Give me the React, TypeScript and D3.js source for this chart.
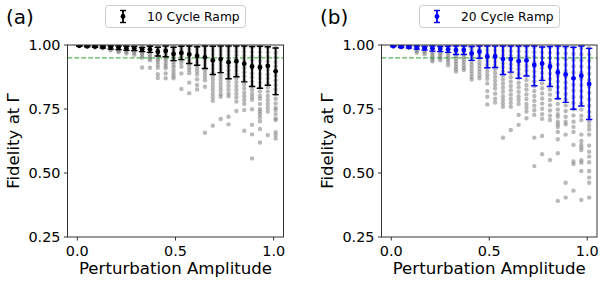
import * as d3 from "d3";
import { useEffect, useRef } from "react";

// perturbation amplitude of each column
const amplitudes = [0.01, 0.05, 0.09, 0.13, 0.17, 0.21, 0.25, 0.29, 0.33, 0.37, 0.41, 0.45, 0.49,
    0.53, 0.57, 0.61, 0.65, 0.69, 0.73, 0.77, 0.81, 0.85, 0.89, 0.93, 0.97, 1.01];

// (a) 10 cycle ramp
const meanA = [0.997, 0.995, 0.994, 0.992, 0.991, 0.99, 0.987, 0.986, 0.982, 0.983, 0.974, 0.977, 0.965,
    0.969, 0.963, 0.957, 0.952, 0.94, 0.945, 0.933, 0.937, 0.927, 0.916, 0.913, 0.918, 0.897];
const stdA = [0.001, 0.002, 0.003, 0.004, 0.007, 0.008, 0.008, 0.008, 0.008, 0.012, 0.017, 0.023, 0.026,
    0.026, 0.035, 0.036, 0.044, 0.055, 0.053, 0.065, 0.061, 0.071, 0.078, 0.082, 0.075, 0.091];
const samplesA = [
    [1.0, 0.999, 0.998, 0.997],
    [1.0, 0.998, 0.996, 0.994],
    [0.999, 0.996, 0.993, 0.99],
    [0.999, 0.995, 0.991, 0.987],
    [0.998, 0.993, 0.988, 0.983, 0.979],
    [0.998, 0.992, 0.986, 0.981, 0.976, 0.972],
    [0.997, 0.991, 0.985, 0.979, 0.973, 0.967],
    [0.997, 0.99, 0.983, 0.976, 0.969, 0.962],
    [0.996, 0.989, 0.981, 0.973, 0.966, 0.958, 0.95, 0.912],
    [0.996, 0.988, 0.98, 0.972, 0.963, 0.954, 0.946, 0.94, 0.911],
    [0.995, 0.986, 0.977, 0.968, 0.959, 0.95, 0.942, 0.934, 0.922, 0.911, 0.886, 0.871],
    [0.995, 0.985, 0.976, 0.966, 0.957, 0.947, 0.938, 0.928, 0.918, 0.909, 0.889, 0.87],
    [0.994, 0.984, 0.974, 0.963, 0.953, 0.943, 0.933, 0.922, 0.912, 0.9, 0.889, 0.879, 0.87],
    [0.994, 0.983, 0.972, 0.962, 0.951, 0.94, 0.93, 0.915, 0.889, 0.828],
    [0.993, 0.982, 0.97, 0.959, 0.947, 0.936, 0.925, 0.913, 0.902, 0.89, 0.853, 0.812],
    [0.993, 0.981, 0.969, 0.957, 0.945, 0.933, 0.921, 0.909, 0.897, 0.885, 0.866, 0.844, 0.826],
    [0.992, 0.979, 0.966, 0.953, 0.94, 0.927, 0.914, 0.901, 0.888, 0.875, 0.862, 0.837, 0.657],
    [0.992, 0.978, 0.964, 0.95, 0.936, 0.922, 0.908, 0.894, 0.88, 0.866, 0.852, 0.838, 0.824, 0.81, 0.796, 0.782, 0.685],
    [0.991, 0.977, 0.963, 0.948, 0.934, 0.92, 0.906, 0.892, 0.878, 0.864, 0.85, 0.836, 0.822, 0.808, 0.798, 0.711],
    [0.991, 0.976, 0.961, 0.946, 0.931, 0.916, 0.901, 0.886, 0.871, 0.856, 0.841, 0.826, 0.811, 0.8, 0.72, 0.69],
    [0.99, 0.975, 0.96, 0.945, 0.93, 0.915, 0.9, 0.885, 0.87, 0.855, 0.84, 0.825, 0.81, 0.795, 0.779, 0.742],
    [0.99, 0.974, 0.958, 0.942, 0.926, 0.91, 0.894, 0.878, 0.862, 0.846, 0.83, 0.814, 0.8, 0.785, 0.77, 0.746, 0.665],
    [0.989, 0.973, 0.956, 0.94, 0.923, 0.907, 0.89, 0.874, 0.857, 0.841, 0.825, 0.81, 0.797, 0.786, 0.749, 0.688, 0.651, 0.557],
    [0.989, 0.972, 0.955, 0.938, 0.921, 0.904, 0.887, 0.87, 0.853, 0.836, 0.819, 0.802, 0.79, 0.77, 0.75, 0.74, 0.73, 0.718, 0.702, 0.672, 0.619],
    [0.988, 0.971, 0.954, 0.937, 0.92, 0.903, 0.886, 0.869, 0.852, 0.835, 0.818, 0.801, 0.785, 0.77, 0.755, 0.74, 0.648],
    [0.988, 0.97, 0.952, 0.934, 0.916, 0.898, 0.88, 0.862, 0.844, 0.826, 0.808, 0.79, 0.772, 0.755, 0.746, 0.73, 0.713, 0.707, 0.659, 0.648, 0.635],
];

// (b) 20 cycle ramp
const meanB = [0.996, 0.993, 0.992, 0.99, 0.987, 0.987, 0.984, 0.983, 0.98, 0.98, 0.967, 0.974, 0.955,
    0.955, 0.945, 0.945, 0.937, 0.94, 0.922, 0.927, 0.916, 0.893, 0.885, 0.87, 0.88, 0.848];
const stdB = [0.002, 0.003, 0.004, 0.006, 0.007, 0.011, 0.01, 0.012, 0.017, 0.017, 0.027, 0.026, 0.044,
    0.043, 0.06, 0.051, 0.067, 0.061, 0.081, 0.065, 0.078, 0.103, 0.109, 0.121, 0.118, 0.139];
const samplesB = [
    [1.0, 0.998, 0.996, 0.994],
    [1.0, 0.997, 0.994, 0.991],
    [0.999, 0.995, 0.991, 0.988],
    [0.999, 0.994, 0.988, 0.982, 0.976, 0.97],
    [0.998, 0.992, 0.985, 0.978, 0.971, 0.964],
    [0.998, 0.99, 0.982, 0.974, 0.966, 0.958, 0.95, 0.942, 0.936],
    [0.997, 0.989, 0.98, 0.972, 0.964, 0.956, 0.948, 0.94],
    [0.997, 0.988, 0.978, 0.969, 0.96, 0.95, 0.941, 0.932, 0.921],
    [0.996, 0.986, 0.976, 0.966, 0.956, 0.946, 0.936, 0.926, 0.915, 0.905, 0.896],
    [0.996, 0.985, 0.974, 0.963, 0.952, 0.942, 0.932, 0.921, 0.91, 0.902],
    [0.995, 0.983, 0.971, 0.959, 0.947, 0.935, 0.923, 0.911, 0.899, 0.887, 0.875, 0.865],
    [0.995, 0.982, 0.97, 0.957, 0.945, 0.932, 0.92, 0.907, 0.895, 0.882, 0.87],
    [0.994, 0.98, 0.966, 0.952, 0.938, 0.924, 0.91, 0.896, 0.882, 0.868, 0.85, 0.82, 0.798, 0.768],
    [0.994, 0.979, 0.964, 0.949, 0.934, 0.919, 0.905, 0.89, 0.875, 0.86, 0.845, 0.83, 0.81, 0.79, 0.775],
    [0.993, 0.977, 0.961, 0.945, 0.929, 0.913, 0.897, 0.881, 0.865, 0.849, 0.833, 0.817, 0.8, 0.785, 0.772, 0.759, 0.638],
    [0.993, 0.976, 0.959, 0.942, 0.925, 0.908, 0.891, 0.874, 0.857, 0.84, 0.823, 0.806, 0.789, 0.774, 0.759, 0.668],
    [0.992, 0.975, 0.957, 0.94, 0.922, 0.905, 0.887, 0.87, 0.852, 0.835, 0.817, 0.8, 0.785, 0.77, 0.727, 0.688],
    [0.992, 0.974, 0.955, 0.937, 0.918, 0.9, 0.881, 0.863, 0.844, 0.826, 0.807, 0.789, 0.77, 0.755, 0.74, 0.714],
    [0.991, 0.972, 0.953, 0.934, 0.915, 0.896, 0.877, 0.858, 0.839, 0.82, 0.801, 0.782, 0.763, 0.745, 0.727, 0.638, 0.527],
    [0.991, 0.971, 0.951, 0.931, 0.911, 0.891, 0.871, 0.851, 0.831, 0.811, 0.791, 0.771, 0.751, 0.73, 0.712, 0.645, 0.573],
    [0.99, 0.97, 0.949, 0.929, 0.908, 0.888, 0.867, 0.847, 0.826, 0.806, 0.785, 0.765, 0.744, 0.724, 0.707, 0.551],
    [0.99, 0.968, 0.946, 0.924, 0.902, 0.88, 0.858, 0.836, 0.814, 0.792, 0.77, 0.748, 0.73, 0.72, 0.7, 0.69, 0.68, 0.66, 0.632, 0.577, 0.391],
    [0.989, 0.967, 0.944, 0.922, 0.899, 0.877, 0.854, 0.832, 0.809, 0.787, 0.764, 0.742, 0.72, 0.7, 0.69, 0.65, 0.462, 0.404],
    [0.989, 0.965, 0.941, 0.917, 0.893, 0.869, 0.845, 0.821, 0.797, 0.773, 0.749, 0.725, 0.7, 0.68, 0.66, 0.61, 0.545, 0.535, 0.431],
    [0.988, 0.964, 0.94, 0.916, 0.892, 0.868, 0.844, 0.82, 0.796, 0.772, 0.748, 0.724, 0.707, 0.65, 0.625, 0.61, 0.6, 0.59, 0.55, 0.54, 0.508, 0.395],
    [0.988, 0.963, 0.938, 0.913, 0.888, 0.863, 0.838, 0.813, 0.788, 0.763, 0.738, 0.72, 0.7, 0.685, 0.67, 0.65, 0.607, 0.583, 0.564, 0.542, 0.508, 0.482, 0.462, 0.404],
];

const xTicks = [0.0, 0.5, 1.0];
const yTicks = [0.25, 0.5, 0.75, 1.0];
const threshold = 0.95;

const panels = [
    { tag: "(a)", label: "10 Cycle Ramp", color: "#000000", mean: meanA, std: stdA, samples: samplesA, left: 67.5, right: 283.5, legendX: 105 },
    { tag: "(b)", label: "20 Cycle Ramp", color: "#0000ff", mean: meanB, std: stdB, samples: samplesB, left: 381.5, right: 597, legendX: 419 },
];

export default function App() {
    const svgRef = useRef<SVGSVGElement>(null);
    const width = 604;
    const height = 282;

    useEffect(() => {
        const svg = d3.select(svgRef.current);
        svg.selectAll("*").remove();

        const top = 45;
        const bottom = 237;
        const font = "DejaVu Sans, sans-serif";
        const y = d3.scaleLinear().domain([0.25, 1.0]).range([bottom, top]);

        panels.forEach((p, k) => {
            const x = d3.scaleLinear().domain([-0.05, 1.05]).range([p.left, p.right]);
            const g = svg.append("g");

            const clipId = "plotclip" + k;
            g.append("clipPath").attr("id", clipId)
                .append("rect")
                .attr("x", p.left).attr("y", top)
                .attr("width", p.right - p.left).attr("height", bottom - top);

            const plot = g.append("g").attr("clip-path", `url(#${clipId})`);

            // individual runs
            const pts = p.samples.flatMap((col, i) => col.map(v => [amplitudes[i], v]));
            plot.append("g")
                .selectAll("circle")
                .data(pts)
                .join("circle")
                .attr("cx", d => x(d[0]))
                .attr("cy", d => y(d[1]))
                .attr("r", 2.2)
                .attr("fill", "#808080")
                .attr("fill-opacity", 0.55);

            // 0.95 threshold
            plot.append("line")
                .attr("x1", p.left).attr("x2", p.right)
                .attr("y1", y(threshold)).attr("y2", y(threshold))
                .attr("stroke", "#2ca02c")
                .attr("stroke-opacity", 0.8)
                .attr("stroke-width", 1.3)
                .attr("stroke-dasharray", "4.8,2.1");

            // mean +- std
            const bars = plot.append("g")
                .selectAll("g")
                .data(p.mean.map((m, i) => ({ a: amplitudes[i], m, lo: m - p.std[i], hi: Math.min(m + p.std[i], 0.996) })))
                .join("g");
            bars.append("line")
                .attr("x1", d => x(d.a)).attr("x2", d => x(d.a))
                .attr("y1", d => y(d.lo)).attr("y2", d => y(d.hi))
                .attr("stroke", p.color).attr("stroke-width", 1.8);
            bars.append("line")
                .attr("x1", d => x(d.a) - 3.2).attr("x2", d => x(d.a) + 3.2)
                .attr("y1", d => y(d.lo)).attr("y2", d => y(d.lo))
                .attr("stroke", p.color).attr("stroke-width", 1.4);
            bars.append("line")
                .attr("x1", d => x(d.a) - 3.2).attr("x2", d => x(d.a) + 3.2)
                .attr("y1", d => y(d.hi)).attr("y2", d => y(d.hi))
                .attr("stroke", p.color).attr("stroke-width", 1.4);
            bars.append("circle")
                .attr("cx", d => x(d.a)).attr("cy", d => y(d.m))
                .attr("r", 2.4)
                .attr("fill", p.color);

            // frame
            g.append("rect")
                .attr("x", p.left).attr("y", top)
                .attr("width", p.right - p.left).attr("height", bottom - top)
                .attr("fill", "none")
                .attr("stroke", "#333")
                .attr("stroke-width", 1);

            // y axis
            const yAxis = g.append("g").selectAll("g").data(yTicks).join("g");
            yAxis.append("line")
                .attr("x1", p.left - 3.5).attr("x2", p.left)
                .attr("y1", d => y(d)).attr("y2", d => y(d))
                .attr("stroke", "#333");
            yAxis.append("text")
                .attr("x", p.left - 7)
                .attr("y", d => y(d))
                .attr("dy", "0.36em")
                .attr("text-anchor", "end")
                .attr("font-family", font)
                .attr("font-size", 14.4)
                .attr("fill", "#000")
                .text(d => d3.format(".2f")(d));

            // x axis
            const xAxis = g.append("g").selectAll("g").data(xTicks).join("g");
            xAxis.append("line")
                .attr("x1", d => x(d)).attr("x2", d => x(d))
                .attr("y1", bottom).attr("y2", bottom + 3.5)
                .attr("stroke", "#333");
            xAxis.append("text")
                .attr("x", d => x(d))
                .attr("y", 255.5)
                .attr("text-anchor", "middle")
                .attr("font-family", font)
                .attr("font-size", 14.4)
                .attr("fill", "#000")
                .text(d => d3.format(".1f")(d));

            g.append("text")
                .attr("x", (p.left + p.right) / 2)
                .attr("y", 274)
                .attr("text-anchor", "middle")
                .attr("font-family", font)
                .attr("font-size", 16.6)
                .text("Perturbation Amplitude");

            g.append("text")
                .attr("transform", `translate(${p.left - 48.5},${(top + bottom) / 2}) rotate(-90)`)
                .attr("text-anchor", "middle")
                .attr("font-family", font)
                .attr("font-size", 16.6)
                .text("Fidelity at Γ");

            // panel tag
            g.append("text")
                .attr("x", p.left - 61.5)
                .attr("y", 24)
                .attr("font-family", font)
                .attr("font-size", 20)
                .text(p.tag);

            // legend
            const lg = g.append("g").attr("transform", `translate(${p.legendX},5)`);
            lg.append("rect")
                .attr("x", 0.5).attr("y", 0.5)
                .attr("width", 140).attr("height", 22)
                .attr("rx", 3)
                .attr("fill", "#fff")
                .attr("stroke", "#ccc");
            const mx = 18;
            lg.append("line").attr("x1", mx).attr("x2", mx).attr("y1", 5.5).attr("y2", 17.5)
                .attr("stroke", p.color).attr("stroke-width", 1.8);
            lg.append("line").attr("x1", mx - 3).attr("x2", mx + 3).attr("y1", 5.5).attr("y2", 5.5)
                .attr("stroke", p.color).attr("stroke-width", 1.4);
            lg.append("line").attr("x1", mx - 3).attr("x2", mx + 3).attr("y1", 17.5).attr("y2", 17.5)
                .attr("stroke", p.color).attr("stroke-width", 1.4);
            lg.append("circle").attr("cx", mx).attr("cy", 11.5).attr("r", 2.4).attr("fill", p.color);
            lg.append("text")
                .attr("x", 42)
                .attr("y", 16)
                .attr("font-family", font)
                .attr("font-size", 12.3)
                .text(p.label);
        });
    }, []);

    return (
        <svg ref={svgRef} width={width} height={height}
            style={{ position: "absolute", left: 0, top: 0, background: "#fff" }} />
    );
}
